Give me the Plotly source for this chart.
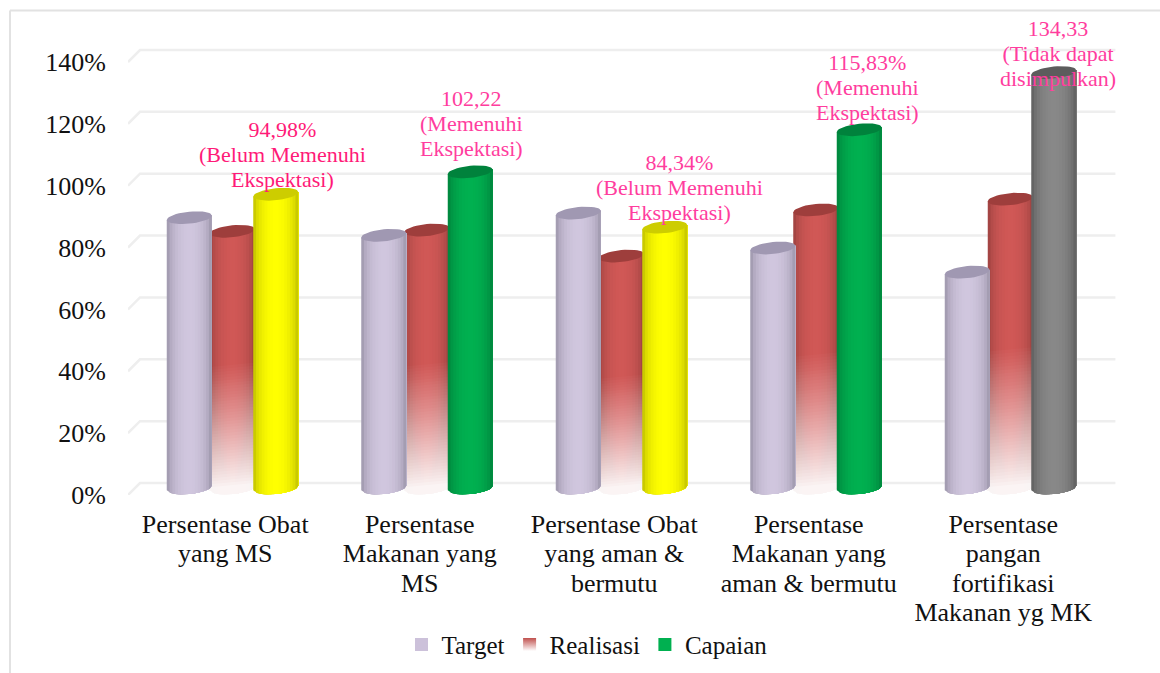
import math
import plotly.graph_objects as go

# ---- data ----
categories = ["Persentase Obat<br>yang MS", "Persentase<br>Makanan yang<br>MS",
              "Persentase Obat<br>yang aman &<br>bermutu", "Persentase<br>Makanan yang<br>aman & bermutu",
              "Persentase<br>pangan<br>fortifikasi<br>Makanan yg MK"]
target = [87.4, 81.7, 88.9, 77.6, 69.8]
realisasi = [83.0, 83.4, 75.0, 89.9, 93.4]
capaian = [94.98, 102.22, 84.34, 115.83, 134.33]
capaian_colors = ["yellow", "green", "yellow", "green", "gray"]
labels = ["94,98%<br>(Belum Memenuhi<br>Ekspektasi)", "102,22<br>(Memenuhi<br>Ekspektasi)",
          "84,34%<br>(Belum Memenuhi<br>Ekspektasi)", "115,83%<br>(Memenuhi<br>Ekspektasi)",
          "134,33<br>(Tidak dapat<br>disimpulkan)"]
y_ticks = [0, 20, 40, 60, 80, 100, 120, 140]
y_tick_labels = ["0%", "20%", "40%", "60%", "80%", "100%", "120%", "140%"]

# ---- styles ----
W, H = 1160, 673
L, T, B = 128, 12, 495          # plot box in pixels
R = 1148
PX_X = 194.5                    # pixels per category
PX_Y = 433 / 140.0              # pixels per 1 %
FONT = "Liberation Serif"
PALETTE = {
    "target": ((208, 198, 222), (138, 132, 152), (160, 152, 178)),
    "realisasi": ((208, 88, 86), (138, 58, 56), (158, 62, 60)),
    "yellow": ((255, 255, 0), (170, 170, 0), (205, 205, 0)),
    "green": ((0, 176, 80), (0, 115, 52), (0, 130, 60)),
    "gray": ((136, 136, 136), (78, 78, 78), (92, 92, 92)),
}
HALF_W = 22.5 / PX_X
BASE = 7.0 / PX_Y               # cylinder axis sits behind the front plane
ELL = 6.0 / PX_Y
TILT = 2.2 / PX_Y
N = 16
SERIES_DX = {"target": -36 / PX_X, "realisasi": 7 / PX_X, "capaian": 50.5 / PX_X}

fig = go.Figure()


def rgb(c):
    return "rgb(%d,%d,%d)" % tuple(round(v) for v in c)


def sized(text, size):
    """Larger glyphs on the line pitch of the parent font."""
    return "<br>".join('<span style="font-size:%gpx">%s</span>' % (size, p) for p in text.split("<br>"))


def poly(name, xs, ys, color):
    fig.add_trace(go.Scatter(x=xs, y=ys, mode="lines", fill="toself", fillcolor=color,
                             line=dict(width=0), hoverinfo="skip", showlegend=False, name=name))


def bottom(u, extra=0.0):
    return BASE - (ELL + extra) * math.sqrt(max(0, 1 - u * u)) + TILT * u


def cylinders(name, idx, values, dx, pal):
    """Draws the cylinders of idx through left-to-right painted slices, then the top ellipses."""
    center, edge, top = PALETTE[pal]
    for s in range(N):
        t = (s + 0.5) / N
        k = math.sin(math.pi * t) ** 0.42
        col = tuple(edge[i] + (center[i] - edge[i]) * k for i in range(3))
        xs, ys = [], []
        u0 = -1 + 2 * s / N
        for i in idx:
            cx = i + dx
            poly_u = [u0 + j * (1 - u0) / 10 for j in range(11)]
            v = values[i] + BASE
            xs += [cx + HALF_W * u0, cx + HALF_W]
            ys += [v + TILT * u0, v + TILT]
            for u in reversed(poly_u):
                xs.append(cx + HALF_W * u)
                ys.append(bottom(u))
            xs.append(None)
            ys.append(None)
        poly(name, xs, ys, rgb(col))
    xs, ys = [], []
    for i in idx:
        cx = i + dx
        v = values[i] + BASE
        for a in range(41):
            th = 2 * math.pi * a / 40
            u = math.cos(th)
            xs.append(cx + HALF_W * u)
            ys.append(v + ELL * math.sin(th) + TILT * u)
        xs.append(None)
        ys.append(None)
    poly(name, xs, ys, rgb(top))


def red_fade():
    layers = 42
    prev = 0.0
    grow = 1.0 / PX_Y
    for k in range(layers):
        frac = 1 - k / layers           # from the largest layer to the smallest
        a_target = 0.95 * (k + 1) / layers
        d = 1 - (1 - a_target) / (1 - prev)
        prev = a_target
        xs, ys = [], []
        for i, val in enumerate(realisasi):
            cx = i + SERIES_DX["realisasi"]
            y_top = 0.48 * val * frac + BASE
            w = HALF_W + 0.6 / PX_X
            xs += [cx - w, cx + w]
            ys += [y_top - TILT, y_top + TILT]
            for j in range(20, -1, -1):
                u = -1 + 2 * j / 20
                xs.append(cx + w * u)
                ys.append(bottom(u, grow))
            xs.append(None)
            ys.append(None)
        poly("fade", xs, ys, "rgba(255,255,255,%.4f)" % d)


# back-wall gridlines with their small side return
DEPTH_X, DEPTH_Y = 12 / PX_X, 12 / PX_Y
gx, gy = [], []
for v in y_ticks:
    gx += [-0.5, -0.5 + DEPTH_X, 4.515 + DEPTH_X, None]
    gy += [v, v + DEPTH_Y, v + DEPTH_Y, None]
fig.add_trace(go.Scatter(x=gx, y=gy, mode="lines", line=dict(color="#eeeeee", width=2.5),
                         hoverinfo="skip", showlegend=False))

ids = list(range(len(categories)))
cylinders("Realisasi", ids, realisasi, SERIES_DX["realisasi"], "realisasi")
red_fade()
cylinders("Target", ids, target, SERIES_DX["target"], "target")
for pal in ["yellow", "green", "gray"]:
    cylinders("Capaian", [i for i in ids if capaian_colors[i] == pal], capaian, SERIES_DX["capaian"], pal)

# legend entries
fig.add_trace(go.Scatter(x=[None], y=[None], mode="markers", name="Target",
                         marker=dict(symbol="square", size=13, color="#CCC1DA")))
fig.add_trace(go.Scatter(x=[None], y=[None], mode="markers", name="Realisasi",
                         marker=dict(symbol="square", size=13, color="#C0504D",
                                     gradient=dict(type="vertical", color="#ffffff"))))
fig.add_trace(go.Scatter(x=[None], y=[None], mode="markers", name="Capaian",
                         marker=dict(symbol="square", size=13, color="#00B050")))

# value labels
label_color = ["#FF1A78", "#FF3D9E", "#FF3D9E", "#FF3D9E", "#FF3D9E"]
label_dx = [7, 1, 15, 8, 4]
label_dy = [-6, 3, -6, -3, -26]
for i, txt in enumerate(labels):
    fig.add_annotation(x=i + SERIES_DX["capaian"], y=capaian[i] + BASE, text=sized(txt, 22), showarrow=False,
                       xanchor="center", yanchor="bottom", xshift=label_dx[i], yshift=label_dy[i] + 6,
                       font=dict(family=FONT, size=19.2, color=label_color[i]))

fig.update_layout(
    width=W, height=H, margin=dict(l=L, r=W - R, t=T, b=H - B, pad=0, autoexpand=False),
    plot_bgcolor="white", paper_bgcolor="white",
    showlegend=True,
    font=dict(family=FONT, size=23, color="#111111"),
    legend=dict(orientation="h", x=0.45, xanchor="center", y=-0.31, yanchor="middle",
                font=dict(family=FONT, size=25, color="#111111"), itemwidth=30, tracegroupgap=0),
    xaxis=dict(range=[-0.5, -0.5 + (R - L) / PX_X], tickmode="array", tickvals=ids, automargin=False,
               ticktext=[sized(c, 26) for c in categories], tickfont=dict(family=FONT, size=22.7, color="#111111"),
               showgrid=False, zeroline=False, showline=False, ticks="", ticklabelstandoff=14),
    yaxis=dict(range=[0, (B - T) / PX_Y], tickmode="array", tickvals=y_ticks, ticktext=y_tick_labels, automargin=False,
               tickfont=dict(family=FONT, size=26, color="#111111"),
               showgrid=False, zeroline=False, showline=False, ticks="", ticklabelstandoff=21),
    shapes=[
        dict(type="line", xref="paper", yref="paper", x0=(10 - L) / (R - L), x1=(W - L) / (R - L),
             y0=(B - 10.5) / (B - T), y1=(B - 10.5) / (B - T), line=dict(color="#e2e2e2", width=2)),
        dict(type="line", xref="paper", yref="paper", x0=(10 - L) / (R - L), x1=(10 - L) / (R - L),
             y0=(B - 10.5) / (B - T), y1=(B - H) / (B - T), line=dict(color="#e2e2e2", width=2)),
    ],
)

fig.write_html("out.html", config=dict(displayModeBar=False),
               post_script="document.body.style.margin='0';document.documentElement.style.overflow='hidden';")
